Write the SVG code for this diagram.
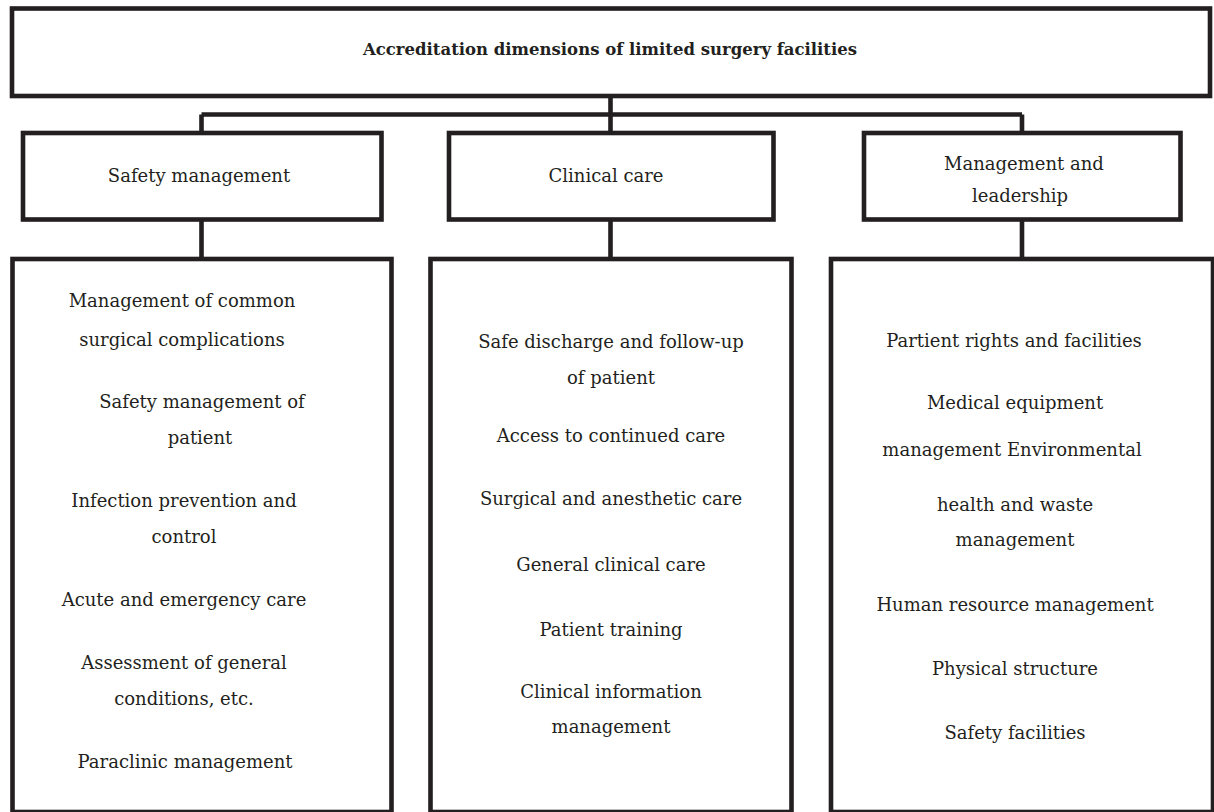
<svg xmlns="http://www.w3.org/2000/svg" width="1214" height="812" viewBox="0 0 1214 812">
<style>
.box{fill:#ffffff;stroke:#231f20;stroke-width:4.6}
.con{fill:none;stroke:#231f20;stroke-width:4.6}
text{font-family:"DejaVu Serif","Liberation Serif",serif;font-size:18px;fill:#231f20;text-anchor:middle}
.title{font-weight:bold;font-size:16.5px}
</style>
<rect width="1214" height="812" fill="#ffffff"/>
<g id="connectors">
<path class="con" d="M610.5,96 V114.5 M201.5,114.5 H1022 M201.5,114.5 V133 M610.5,114.5 V133 M1022,114.5 V133 M201.5,219.5 V259 M610.5,219.5 V259 M1022,219.5 V259"/>
</g>
<g id="root">
<rect class="box" x="12" y="8.5" width="1198" height="87.5" stroke-width="5"/>
<text class="title" x="610" y="55">Accreditation dimensions of limited surgery facilities</text>
</g>
<g id="safety">
<rect class="box" x="23" y="133" width="358.5" height="86.5"/>
<text x="199" y="182">Safety management</text>
</g>
<g id="clinical">
<rect class="box" x="449" y="133" width="324.5" height="86.5"/>
<text x="606" y="182">Clinical care</text>
</g>
<g id="management">
<rect class="box" x="864" y="133" width="316.5" height="86.5"/>
<text x="1024" y="170">Management and</text>
<text x="1020" y="201.5">leadership</text>
</g>
<g id="safety-items">
<rect class="box" x="12.5" y="259" width="379" height="553"/>
<text x="182" y="307">Management of common</text>
<text x="182" y="346">surgical complications</text>
<text x="202" y="408">Safety management of</text>
<text x="200" y="444">patient</text>
<text x="184" y="507">Infection prevention and</text>
<text x="184" y="543">control</text>
<text x="184" y="606">Acute and emergency care</text>
<text x="184" y="669">Assessment of general</text>
<text x="184" y="705">conditions, etc.</text>
<text x="185" y="768">Paraclinic management</text>
</g>
<g id="clinical-items">
<rect class="box" x="430.5" y="259" width="361" height="553"/>
<text x="611" y="348">Safe discharge and follow-up</text>
<text x="611" y="384">of patient</text>
<text x="611" y="442">Access to continued care</text>
<text x="611" y="505">Surgical and anesthetic care</text>
<text x="611" y="571">General clinical care</text>
<text x="611" y="636">Patient training</text>
<text x="611" y="698">Clinical information</text>
<text x="611" y="733">management</text>
</g>
<g id="management-items">
<rect class="box" x="831" y="259" width="382" height="553"/>
<text x="1014" y="347">Partient rights and facilities</text>
<text x="1015" y="409">Medical equipment</text>
<text x="1012" y="456">management Environmental</text>
<text x="1015" y="511">health and waste</text>
<text x="1015" y="546">management</text>
<text x="1015" y="611">Human resource management</text>
<text x="1015" y="675">Physical structure</text>
<text x="1015" y="739">Safety facilities</text>
</g>
</svg>
